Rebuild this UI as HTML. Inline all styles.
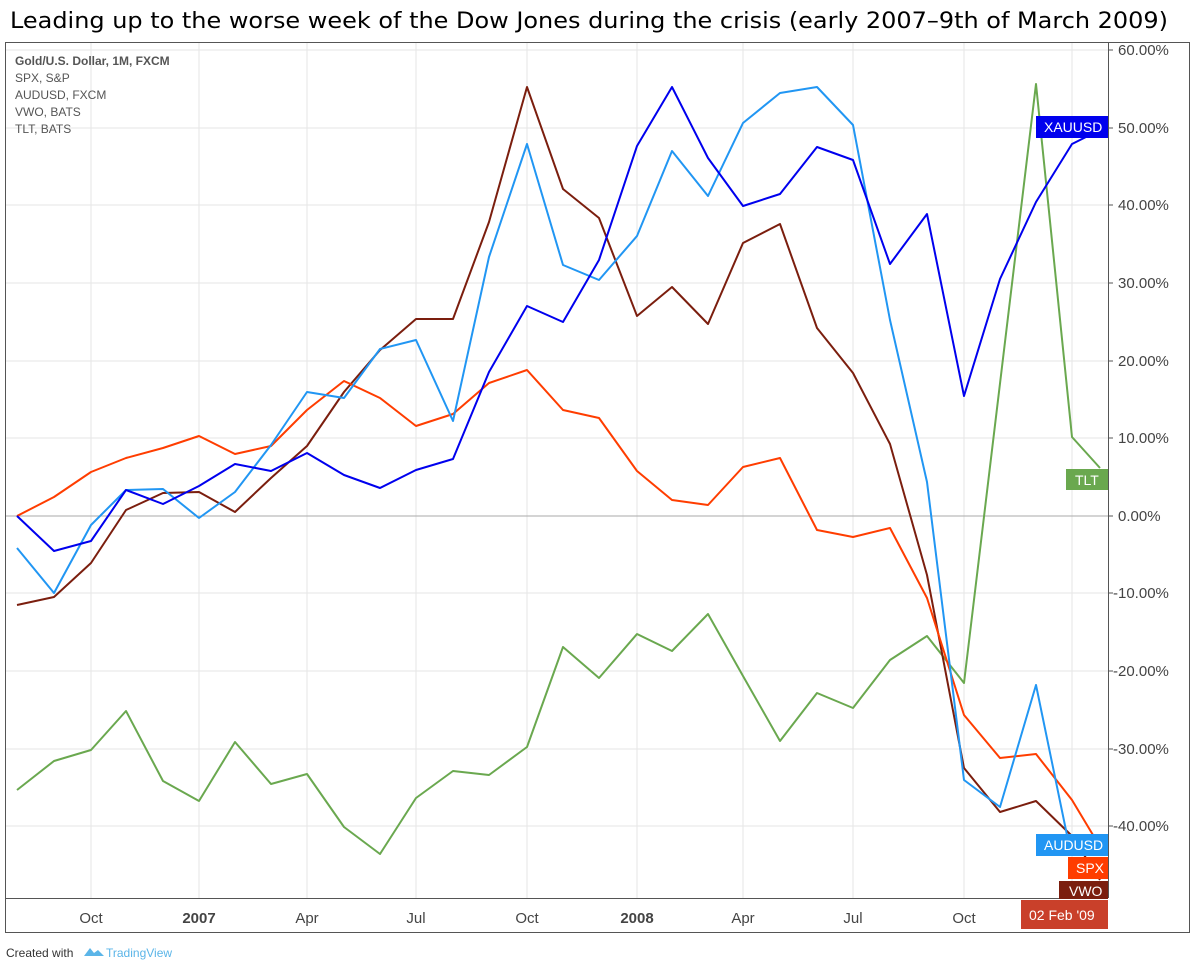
<!DOCTYPE html>
<html><head><meta charset="utf-8"><style>
body{margin:0;background:#fff;}
svg text{font-family:"Liberation Sans",sans-serif;}
svg text.title{font-family:"DejaVu Sans",sans-serif;}
</style></head><body>
<svg width="1196" height="970" xmlns="http://www.w3.org/2000/svg">
<rect width="1196" height="970" fill="#fff"/>
<text class="title" x="10" y="28" font-size="22" fill="#000" textLength="1158" lengthAdjust="spacingAndGlyphs">Leading up to the worse week of the Dow Jones during the crisis (early 2007–9th of March 2009)</text>
<rect x="5.5" y="42.5" width="1184" height="890" fill="none" stroke="#555" stroke-width="1"/>
<g stroke="#e6e6e6" stroke-width="1">
<line x1="91" y1="43" x2="91" y2="898"/><line x1="199" y1="43" x2="199" y2="898"/><line x1="307" y1="43" x2="307" y2="898"/><line x1="416" y1="43" x2="416" y2="898"/><line x1="527" y1="43" x2="527" y2="898"/><line x1="637" y1="43" x2="637" y2="898"/><line x1="743" y1="43" x2="743" y2="898"/><line x1="853" y1="43" x2="853" y2="898"/><line x1="964" y1="43" x2="964" y2="898"/><line x1="1072" y1="43" x2="1072" y2="898"/>
<line x1="6" y1="50" x2="1108" y2="50"/><line x1="6" y1="128" x2="1108" y2="128"/><line x1="6" y1="205" x2="1108" y2="205"/><line x1="6" y1="283" x2="1108" y2="283"/><line x1="6" y1="361" x2="1108" y2="361"/><line x1="6" y1="438" x2="1108" y2="438"/><line x1="6" y1="593" x2="1108" y2="593"/><line x1="6" y1="671" x2="1108" y2="671"/><line x1="6" y1="749" x2="1108" y2="749"/><line x1="6" y1="826" x2="1108" y2="826"/>
</g>
<line x1="6" y1="516" x2="1108" y2="516" stroke="#aaa"/>
<line x1="1108.5" y1="43" x2="1108.5" y2="898" stroke="#555"/>
<line x1="6" y1="898.5" x2="1108" y2="898.5" stroke="#555"/>
<g font-size="15" fill="#444">
<text x="1118" y="55">60.00%</text><text x="1118" y="133">50.00%</text><text x="1118" y="210">40.00%</text><text x="1118" y="288">30.00%</text><text x="1118" y="366">20.00%</text><text x="1118" y="443">10.00%</text><text x="1118" y="521">0.00%</text><text x="1113" y="598">-10.00%</text><text x="1113" y="676">-20.00%</text><text x="1113" y="754">-30.00%</text><text x="1113" y="831">-40.00%</text>
</g>
<g stroke="#555"><line x1="1108" y1="50" x2="1113" y2="50"/><line x1="1108" y1="128" x2="1113" y2="128"/><line x1="1108" y1="205" x2="1113" y2="205"/><line x1="1108" y1="283" x2="1113" y2="283"/><line x1="1108" y1="361" x2="1113" y2="361"/><line x1="1108" y1="438" x2="1113" y2="438"/><line x1="1108" y1="516" x2="1113" y2="516"/><line x1="1108" y1="593" x2="1113" y2="593"/><line x1="1108" y1="671" x2="1113" y2="671"/><line x1="1108" y1="749" x2="1113" y2="749"/><line x1="1108" y1="826" x2="1113" y2="826"/></g>
<g font-size="15" fill="#444" text-anchor="middle">
<text x="91" y="923">Oct</text><text x="199" y="923" font-weight="bold">2007</text><text x="307" y="923">Apr</text><text x="416" y="923">Jul</text><text x="527" y="923">Oct</text><text x="637" y="923" font-weight="bold">2008</text><text x="743" y="923">Apr</text><text x="853" y="923">Jul</text><text x="964" y="923">Oct</text>
</g>
<g font-size="12" fill="#555">
<text x="15" y="65" font-weight="bold">Gold/U.S. Dollar, 1M, FXCM</text>
<text x="15" y="82">SPX, S&amp;P</text><text x="15" y="99">AUDUSD, FXCM</text><text x="15" y="116">VWO, BATS</text><text x="15" y="133">TLT, BATS</text>
</g>
<g fill="none" stroke-width="2" stroke-linejoin="round">
<polyline stroke="#6aa84f" points="17,790 54,761 91,750 126,711 163,781 199,801 235,742 271,784 307,774 344,827 380,854 416,798 453,771 489,775 527,747 563,647 599,678 637,634 672,651 708,614 743,676 780,741 817,693 853,708 890,660 927,636 964,683 1036,84 1072,437 1100,468"/>
<polyline stroke="#7b1e0e" points="17,605 54,597 91,563 126,510 163,493 199,492 235,512 271,478 307,446 344,392 380,350 416,319 453,319 489,222 527,87 563,189 599,218 637,316 672,287 708,324 743,243 780,224 817,328 853,373 890,444 927,575 964,768 1000,812 1036,801 1072,836 1100,880"/>
<polyline stroke="#ff3d00" points="17,516 54,497 91,472 126,458 163,448 199,436 235,454 271,446 307,410 344,381 380,398 416,426 453,414 489,383 527,370 563,410 599,418 637,471 672,500 708,505 743,467 780,458 817,530 853,537 890,528 927,598 964,715 1000,758 1036,754 1072,800 1105,855"/>
<polyline stroke="#2196f3" points="17,548 54,593 91,525 126,490 163,489 199,518 235,492 271,445 307,392 344,398 380,349 416,340 453,421 489,257 527,144 563,265 599,280 637,236 672,151 708,196 743,123 780,93 817,87 853,125 890,320 927,482 964,780 1000,807 1036,685 1068,840"/>
<polyline stroke="#0000ee" points="17,516 54,551 91,541 126,490 163,504 199,486 235,464 271,471 307,453 344,475 380,488 416,470 453,459 489,372 527,306 563,322 599,260 637,146 672,87 708,158 743,206 780,194 817,147 853,160 890,264 927,214 964,396 1000,279 1036,202 1072,144 1100,130"/>
</g>
<g font-size="14" fill="#fff">
<rect x="1036" y="116" width="72" height="22" fill="#0000ee"/><text x="1044" y="132">XAUUSD</text>
<rect x="1066" y="469" width="42" height="21" fill="#6aa84f"/><text x="1075" y="485">TLT</text>
<rect x="1036" y="834" width="72" height="22" fill="#2196f3"/><text x="1044" y="850">AUDUSD</text>
<rect x="1068" y="857" width="40" height="22" fill="#ff3d00"/><text x="1076" y="873">SPX</text>
<rect x="1059" y="881" width="49" height="18" fill="#7b1e0e"/><text x="1069" y="896">VWO</text>
<rect x="1021" y="900" width="87" height="29" fill="#c9402a"/><text x="1029" y="920">02 Feb '09</text>
</g>
<text x="6" y="957" font-size="12" fill="#333">Created with</text>
<path d="M84 956 l6 -8 l4 5 l4 -3 l6 6 z" fill="#5bb5e8"/>
<text x="106" y="957" font-size="12" fill="#5bb5e8">TradingView</text>
</svg>
</body></html>
